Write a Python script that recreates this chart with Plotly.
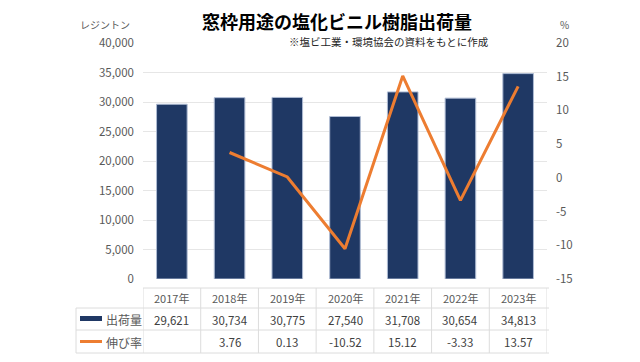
import plotly.graph_objects as go

years = ['2017年', '2018年', '2019年', '2020年', '2021年', '2022年', '2023年']
shipments = [29621, 30734, 30775, 27540, 31708, 30654, 34813]
growth = [None, 3.76, 0.13, -10.52, 15.12, -3.33, 13.57]
left_ticks = [0, 5000, 10000, 15000, 20000, 25000, 30000, 35000, 40000]
right_ticks = [-15, -10, -5, 0, 5, 10, 15, 20]
title = '窓枠用途の塩化ビニル樹脂出荷量'
source = '※塩ビ工業・環境協会の資料をもとに作成'
series_names = ['出荷量', '伸び率']
left_unit = 'レジントン'
right_unit = '%'

W, H = 640, 362
OFF = 8  # page body margin
PL, PT, PW, PH = 143, 43, 404, 236  # plot area in screen coords
L, T = PL - OFF, PT - OFF
R, B = W - L - PW, H - T - PH
FONT = 'Noto Sans CJK JP'
NAVY = '#1F3864'
ORANGE = '#ED7D31'
GRID = '#e6e6e6'
TXT = '#595959'


def px(X):
    return (X - PL) / PW


def py(Y):
    return (PT + PH - Y) / PH


fig = go.Figure()
fig.add_trace(go.Bar(x=years, y=shipments, name=series_names[0], width=0.53,
                     marker=dict(color=NAVY, line=dict(color='#aebbd3', width=1)),
                     yaxis='y'))
fig.add_trace(go.Scatter(x=years, y=growth, name=series_names[1], mode='lines',
                         line=dict(color=ORANGE, width=3), yaxis='y2',
                         connectgaps=False))

shapes = []
ann = []

line_style = dict(color='#dcdcdc', width=1)
n = len(years)
for Y, x0 in [(288, PL), (308, 76), (330, 76), (353, 76)]:
    shapes.append(dict(type='line', xref='paper', yref='paper',
                       x0=px(x0), x1=px(549), y0=py(Y), y1=py(Y), line=line_style))
shapes.append(dict(type='line', xref='paper', yref='paper', x0=px(76), x1=px(76),
                   y0=py(308), y1=py(353), line=line_style))
for i in range(n + 1):
    shapes.append(dict(type='line', xref='x', yref='paper', x0=i - 0.5, x1=i - 0.5,
                       y0=py(288), y1=py(353), line=line_style))

shapes.append(dict(type='rect', xref='paper', yref='paper', x0=px(80), x1=px(102),
                   y0=py(321), y1=py(316), fillcolor=NAVY, line=dict(width=0)))
shapes.append(dict(type='line', xref='paper', yref='paper', x0=px(80), x1=px(102),
                   y0=py(341.5), y1=py(341.5), line=dict(color=ORANGE, width=3)))
for name, Y in zip(series_names, [319, 342]):
    ann.append(dict(text=name, xref='paper', yref='paper', x=px(104), y=py(Y),
                    xanchor='left', yanchor='middle', showarrow=False,
                    font=dict(family=FONT, size=12, color=TXT)))

for i, yr in enumerate(years):
    ann.append(dict(text=yr, xref='x', yref='paper', x=i, y=py(298),
                    showarrow=False, yanchor='middle',
                    font=dict(family=FONT, size=11, color=TXT)))
    ann.append(dict(text=f'{shipments[i]:,}', xref='x', yref='paper', x=i, y=py(319.5),
                    showarrow=False, yanchor='middle',
                    font=dict(family=FONT, size=11.5, color='#404040')))
    g = growth[i]
    if g is not None:
        ann.append(dict(text=f'{g:.2f}', xref='x', yref='paper', x=i, y=py(342),
                        showarrow=False, yanchor='middle',
                        font=dict(family=FONT, size=11.5, color='#404040')))

ann.append(dict(text='<b>' + title + '</b>', xref='paper', yref='paper', x=px(337), y=py(21),
                showarrow=False, xanchor='center', yanchor='middle', borderpad=0,
                font=dict(family=FONT, size=18, color='#000000')))
ann.append(dict(text=source, xref='paper', yref='paper', x=px(288), y=py(41.5),
                showarrow=False, xanchor='left', yanchor='middle', bgcolor='white',
                borderpad=0,
                font=dict(family=FONT, size=10.5, color='#262626')))
ann.append(dict(text=left_unit, xref='paper', yref='paper', x=px(132), y=py(25),
                showarrow=False, xanchor='right', yanchor='middle',
                font=dict(family=FONT, size=10, color=TXT)))
ann.append(dict(text=right_unit, xref='paper', yref='paper', x=px(558), y=py(25),
                showarrow=False, xanchor='left', yanchor='middle',
                font=dict(family=FONT, size=10, color=TXT)))

fig.update_layout(
    width=W, height=H,
    margin=dict(l=L, r=R, t=T, b=B, pad=0),
    paper_bgcolor='white', plot_bgcolor='white',
    showlegend=False,
    font=dict(family=FONT, size=11, color=TXT),
    xaxis=dict(type='category', showticklabels=False, showgrid=False, zeroline=False,
               showline=False, ticks='', range=[-0.5, n - 0.5]),
    yaxis=dict(range=[0, 40000], tickvals=left_ticks,
               ticktext=[f'{v:,}' for v in left_ticks],
               showgrid=True, gridcolor=GRID, gridwidth=1, zeroline=False,
               showline=False, ticks='', ticklabelstandoff=8,
               tickfont=dict(family=FONT, size=11.5, color=TXT)),
    yaxis2=dict(range=[-15, 20], tickvals=right_ticks,
                ticktext=[str(v) for v in right_ticks],
                overlaying='y', side='right', showgrid=False, zeroline=False,
                showline=False, ticks='', ticklabelstandoff=8,
                tickfont=dict(family=FONT, size=11.5, color=TXT)),
    shapes=shapes,
    annotations=ann,
)

fig.write_html('out.html')
